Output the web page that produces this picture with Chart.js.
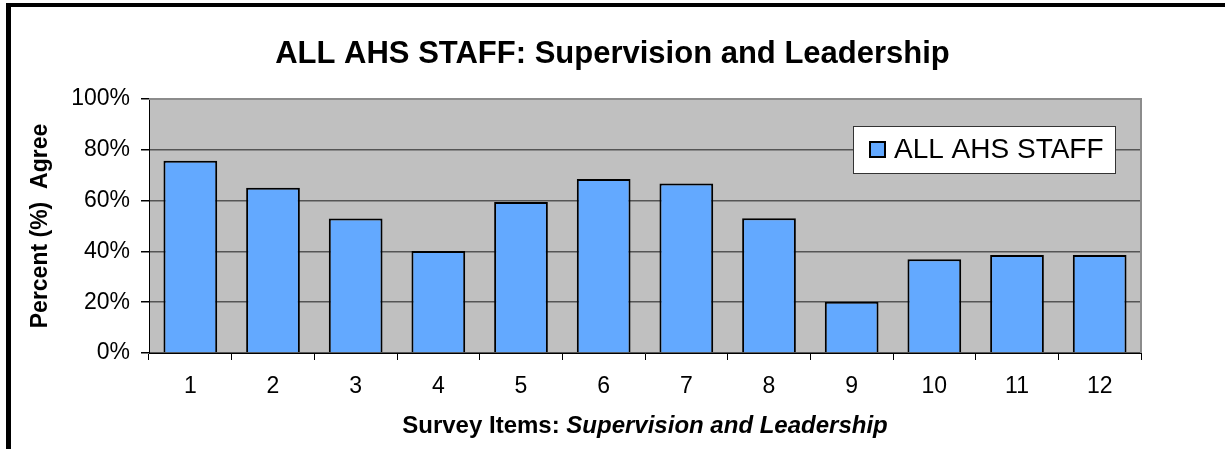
<!DOCTYPE html>
<html>
<head>
<meta charset="utf-8">
<script src="https://cdn.jsdelivr.net/npm/chart.js@4.4.1/dist/chart.umd.min.js"></script>
<style>
  body { margin: 0; background: #fff; }
  #wrap { position: relative; width: 1225px; height: 449px; overflow: hidden; }
  #frame { position: absolute; left: 6px; top: 3px; width: 1400px; height: 600px;
           border-top: 4px solid #000; border-left: 5px solid #000; pointer-events: none; }
  canvas { position: absolute; left: 0; top: 0; }
</style>
</head>
<body>
<div id="wrap">
  <canvas id="grafico" width="1225" height="449"></canvas>
  <div id="frame"></div>
</div>
<script>
const categorias = ['1', '2', '3', '4', '5', '6', '7', '8', '9', '10', '11', '12'];
const valores = [75.7, 65.1, 53.0, 40.2, 59.4, 68.5, 66.7, 53.1, 20.2, 36.9, 38.6, 38.6];
const serieNome = 'ALL AHS STAFF';
const tituloTexto = 'ALL AHS STAFF: Supervision and Leadership';
const eixoXNegrito = 'Survey Items: ';
const eixoXItalico = 'Supervision and Leadership';
const eixoYTexto = 'Percent (%)  Agree';

const FONTE = '"Liberation Sans", Arial, sans-serif';
const AZUL = '#63A9FF';

// fundo cinza da área do gráfico, título, legenda e título do eixo X
const desenhos = {
  id: 'desenhos',
  beforeDraw(chart) {
    const { ctx, chartArea: a } = chart;
    ctx.save();
    ctx.fillStyle = '#C0C0C0';
    ctx.fillRect(a.left, a.top, a.right - a.left, a.bottom - a.top);
    ctx.restore();
  },
  afterDraw(chart) {
    const { ctx, chartArea: a } = chart;
    ctx.save();
    // borda direita e superior
    ctx.strokeStyle = '#8C8C8C';
    ctx.lineWidth = 2;
    ctx.beginPath();
    ctx.moveTo(a.left, a.top);
    ctx.lineTo(a.right, a.top);
    ctx.lineTo(a.right, a.bottom);
    ctx.stroke();

    // título
    ctx.fillStyle = '#000';
    ctx.font = 'bold 31px ' + FONTE;
    ctx.textAlign = 'center';
    ctx.textBaseline = 'middle';
    ctx.fillText(tituloTexto, chart.width / 2, 54);

    // título do eixo X (parte negrito + parte itálico)
    ctx.textAlign = 'left';
    ctx.font = 'bold 24px ' + FONTE;
    const w1 = ctx.measureText(eixoXNegrito).width;
    ctx.font = 'italic bold 24px ' + FONTE;
    const w2 = ctx.measureText(eixoXItalico).width;
    const x0 = (a.left + a.right) / 2 - (w1 + w2) / 2;
    ctx.font = 'bold 24px ' + FONTE;
    ctx.fillText(eixoXNegrito, x0, 426);
    ctx.font = 'italic bold 24px ' + FONTE;
    ctx.fillText(eixoXItalico, x0 + w1, 426);

    // legenda
    const ds = chart.data.datasets[0];
    const lx = a.right - 288, ly = a.top + 27, lw = 262, lh = 47;
    ctx.fillStyle = '#fff';
    ctx.fillRect(lx, ly, lw, lh);
    ctx.strokeStyle = '#333';
    ctx.lineWidth = 1;
    ctx.strokeRect(lx + 0.5, ly + 0.5, lw, lh);
    ctx.fillStyle = ds.backgroundColor;
    ctx.fillRect(lx + 17, ly + 16, 15, 15);
    ctx.strokeStyle = '#000';
    ctx.lineWidth = 2;
    ctx.strokeRect(lx + 17, ly + 16, 15, 15);
    ctx.fillStyle = '#000';
    ctx.font = '28px ' + FONTE;
    ctx.textBaseline = 'middle';
    ctx.fillText(ds.label, lx + 41, ly + lh / 2 + 1);
    ctx.restore();
  }
};

new Chart(document.getElementById('grafico'), {
  type: 'bar',
  data: {
    labels: categorias,
    datasets: [{
      label: serieNome,
      data: valores,
      backgroundColor: AZUL,
      borderColor: '#000',
      borderWidth: 2,
      barPercentage: 0.65,
      categoryPercentage: 1
    }]
  },
  options: {
    responsive: false,
    animation: false,
    layout: { padding: { top: 99, right: 84, left: 0, bottom: 0 } },
    plugins: {
      legend: { display: false },
      title: { display: false },
      tooltip: { enabled: false }
    },
    scales: {
      x: {
        afterFit(scale) { scale.height = 96; },
        grid: { drawOnChartArea: false, drawTicks: true, tickLength: 7, tickColor: '#000', offset: true },
        border: { color: '#000', width: 1 },
        ticks: { color: '#000', font: { family: FONTE, size: 23 }, padding: 13 }
      },
      y: {
        min: 0,
        max: 100,
        afterFit(scale) { scale.width = 149; },
        grid: {
          color: ctx => (ctx.tick && ctx.tick.value === 100) ? '#999' : '#555',
          lineWidth: 1.5,
          tickLength: 8,
          tickColor: '#000'
        },
        border: { color: '#000', width: 1 },
        ticks: {
          stepSize: 20,
          color: '#000',
          padding: 11,
          font: { family: FONTE, size: 23 },
          callback: v => v + '%'
        },
        title: {
          display: true,
          text: eixoYTexto,
          color: '#000',
          font: { family: FONTE, size: 23, weight: 'bold' },
          padding: { top: 27, bottom: 0 }
        }
      }
    }
  },
  plugins: [desenhos]
});
</script>
</body>
</html>
